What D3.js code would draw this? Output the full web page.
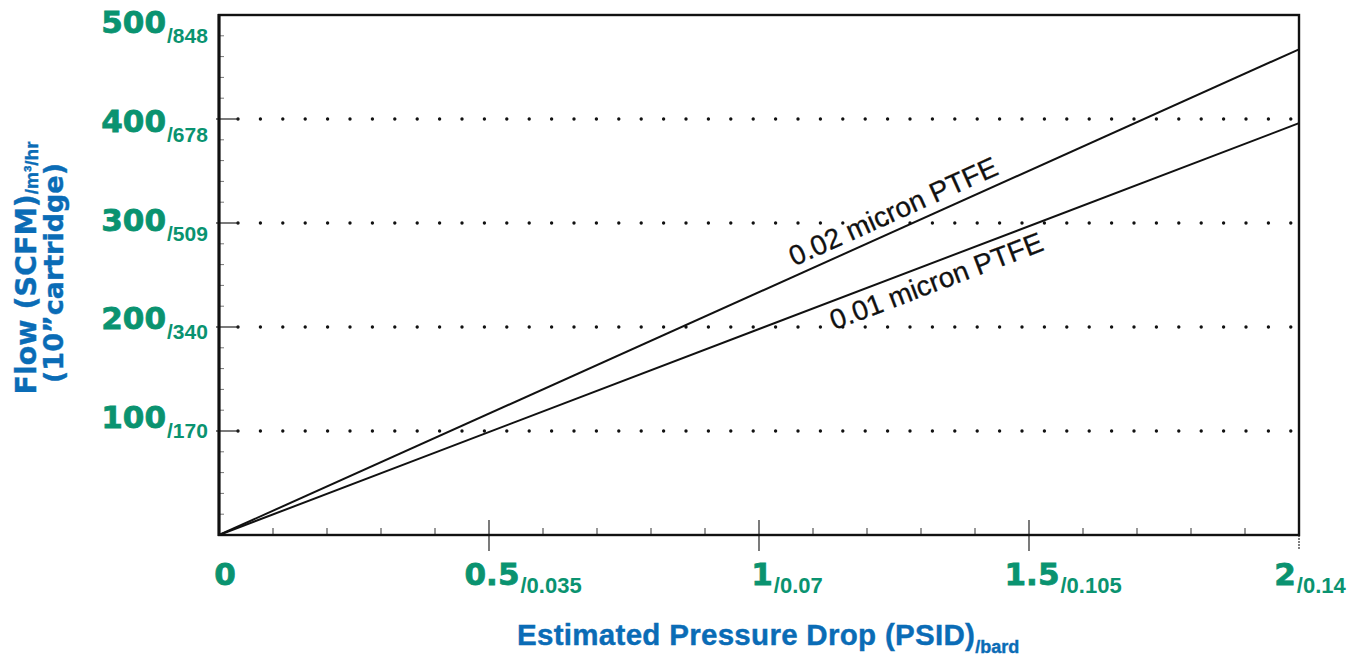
<!DOCTYPE html>
<html>
<head>
<meta charset="utf-8">
<script src="https://cdn.jsdelivr.net/npm/d3@7"></script>
<style>
  html, body { margin: 0; padding: 0; background: #fff; }
  svg { display: block; }
</style>
</head>
<body>
<svg id="chart" width="1358" height="659"></svg>
<script>
// ---- data ----
const pressure = [0, 2];               // PSID
const flowPTFE002 = [0, 467];          // SCFM, 0.02 micron PTFE
const flowPTFE001 = [0, 396];          // SCFM, 0.01 micron PTFE
const seriesNames = ["0.02 micron PTFE", "0.01 micron PTFE"];
const yTicks = [100, 200, 300, 400, 500];
const yTickSub = ["/170", "/340", "/509", "/678", "/848"];
const xTicks = [0, 0.5, 1, 1.5, 2];
const xTickMain = ["0", "0.5", "1", "1.5", "2"];
const xTickSub = ["", "/0.035", "/0.07", "/0.105", "/0.14"];
const gridValues = [100, 200, 300, 400];

// ---- styles ----
const GREEN = "#0a9370";
const BLUE = "#0a6cb6";

const svg = d3.select("#chart");
const x = d3.scaleLinear().domain([0, 2]).range([219, 1299]);
const y = d3.scaleLinear().domain([0, 500]).range([535, 15]);
// tick labels sit on their own evenly spaced positions in the original
const yLab = d3.scaleLinear().domain([100, 500]).range([428, 33]);

// dotted gridlines
svg.append("g").selectAll("line").data(gridValues).join("line")
  .attr("x1", 238).attr("x2", 1298)
  .attr("y1", d => y(d)).attr("y2", d => y(d))
  .attr("stroke", "#111").attr("stroke-width", 3.4)
  .attr("stroke-linecap", "round").attr("stroke-dasharray", "0 22.4");

// minor ticks
const yMinor = d3.range(20, 500, 20).filter(v => v % 100 !== 0);
svg.append("g").selectAll("line").data(yMinor).join("line")
  .attr("x1", x(0)).attr("x2", x(0) + 5)
  .attr("y1", d => y(d)).attr("y2", d => y(d))
  .attr("stroke", "#777").attr("stroke-width", 1);
svg.append("g").selectAll("line").data(gridValues).join("line")
  .attr("x1", x(0) - 3).attr("x2", x(0) + 20)
  .attr("y1", d => y(d)).attr("y2", d => y(d))
  .attr("stroke", "#222").attr("stroke-width", 1.2);
const xMinor = d3.range(1, 20).map(i => i / 10).filter(v => Math.abs(v * 2 - Math.round(v * 2)) > 1e-6);
svg.append("g").selectAll("line").data(xMinor).join("line")
  .attr("x1", d => x(d)).attr("x2", d => x(d))
  .attr("y1", y(0)).attr("y2", y(0) - 7)
  .attr("stroke", "#555").attr("stroke-width", 1.2);
svg.append("g").selectAll("line").data([0.5, 1, 1.5]).join("line")
  .attr("x1", d => x(d)).attr("x2", d => x(d))
  .attr("y1", y(0) - 15).attr("y2", y(0) + 16)
  .attr("stroke", "#333").attr("stroke-width", 1.3);
svg.append("line")
  .attr("x1", x(2)).attr("x2", x(2)).attr("y1", y(0)).attr("y2", y(0) + 15)
  .attr("stroke", "#555").attr("stroke-width", 1.5).attr("stroke-dasharray", "2 1");

// frame
svg.append("rect")
  .attr("x", x(0)).attr("y", y(500))
  .attr("width", x(2) - x(0)).attr("height", y(0) - y(500))
  .attr("fill", "none").attr("stroke", "#111").attr("stroke-width", 2.4);
svg.append("line")
  .attr("x1", x(0)).attr("x2", x(0)).attr("y1", y(500) - 1).attr("y2", y(0) + 1)
  .attr("stroke", "#111").attr("stroke-width", 3);

// series lines
const line = d3.line().x(d => x(d[0])).y(d => y(d[1]));
const series = [flowPTFE002, flowPTFE001].map(vals => pressure.map((p, i) => [p, vals[i]]));
svg.append("g").selectAll("path").data(series).join("path")
  .attr("d", line).attr("fill", "none")
  .attr("stroke", "#111").attr("stroke-width", 2);

// labels along lines
function angleOf(vals) {
  const dx = x(pressure[1]) - x(pressure[0]);
  const dy = y(vals[1]) - y(vals[0]);
  return Math.atan2(dy, dx) * 180 / Math.PI;
}
function interp(vals, p) { return vals[0] + (vals[1] - vals[0]) * (p - pressure[0]) / (pressure[1] - pressure[0]); }
const labelSpecs = [
  { vals: flowPTFE002, p: 1.072, off: -9, name: seriesNames[0] },
  { vals: flowPTFE001, p: 1.121, off: 28, name: seriesNames[1] }
];
labelSpecs.forEach(s => {
  const px = x(s.p), py = y(interp(s.vals, s.p));
  svg.append("text")
    .attr("transform", `translate(${px},${py}) rotate(${angleOf(s.vals)})`)
    .attr("x", 0).attr("y", s.off)
    .attr("font-family", "'Liberation Sans', Arial, sans-serif")
    .attr("font-size", 28).attr("fill", "#111")
    .attr("stroke", "#111").attr("stroke-width", 0.3)
    .text(s.name);
});

// y tick labels
const yl = svg.append("g");
yTicks.forEach((v, i) => {
  yl.append("text")
    .attr("x", 166).attr("y", yLab(v))
    .attr("text-anchor", "end")
    .attr("font-family", "'DejaVu Sans', sans-serif").attr("font-weight", "bold")
    .attr("font-size", 31).attr("fill", GREEN)
    .attr("stroke", GREEN).attr("stroke-width", 0.8)
    .text(v);
  yl.append("text")
    .attr("x", 167).attr("y", yLab(v) + 10)
    .attr("font-family", "'Liberation Sans', Arial, sans-serif").attr("font-weight", "bold")
    .attr("font-size", 21).attr("fill", GREEN).text(yTickSub[i]);
});

// x tick labels
const xl = svg.append("g");
xTicks.forEach((v, i) => {
  const cx = x(v) + (i === 0 ? 6 : i === xTicks.length - 1 ? -14 : 3);
  const main = xl.append("text")
    .attr("x", cx).attr("y", 585)
    .attr("text-anchor", "middle")
    .attr("font-family", "'DejaVu Sans', sans-serif").attr("font-weight", "bold")
    .attr("font-size", 31).attr("fill", GREEN)
    .attr("stroke", GREEN).attr("stroke-width", 0.8)
    .text(xTickMain[i]);
  const w = main.node().getComputedTextLength();
  if (xTickSub[i]) {
    xl.append("text")
      .attr("x", cx + w / 2 + 1).attr("y", 593)
      .attr("font-family", "'Liberation Sans', Arial, sans-serif").attr("font-weight", "bold")
      .attr("font-size", 22).attr("fill", GREEN).text(xTickSub[i]);
  }
});

// x axis title
const xt = svg.append("text")
  .attr("x", 517).attr("y", 645)
  .attr("font-family", "'Liberation Sans', Arial, sans-serif").attr("font-weight", "bold")
  .attr("fill", BLUE).attr("stroke", BLUE).attr("stroke-width", 0.4);
xt.append("tspan").attr("font-size", 29.5).attr("letter-spacing", 0.3).text("Estimated Pressure Drop (PSID)");
xt.append("tspan").attr("font-size", 18).attr("dy", 8).text("/bard");

// y axis title
const yt1 = svg.append("text")
  .attr("transform", "translate(36,268) rotate(-90)")
  .attr("text-anchor", "middle")
  .attr("font-family", "'DejaVu Sans', sans-serif").attr("font-weight", "bold")
  .attr("fill", BLUE).attr("stroke", BLUE).attr("stroke-width", 0.4);
yt1.append("tspan").attr("font-size", 28.5).text("Flow (SCFM)");
yt1.append("tspan").attr("font-size", 19).attr("dy", 2)
  .attr("font-family", "'Liberation Sans', Arial, sans-serif").text("/m³/hr");
svg.append("text")
  .attr("transform", "translate(63,273) rotate(-90)")
  .attr("text-anchor", "middle")
  .attr("font-family", "'DejaVu Sans', sans-serif").attr("font-weight", "bold")
  .attr("font-size", 27).attr("fill", BLUE).attr("stroke", BLUE).attr("stroke-width", 0.4)
  .text("(10”cartridge)");
</script>
</body>
</html>
